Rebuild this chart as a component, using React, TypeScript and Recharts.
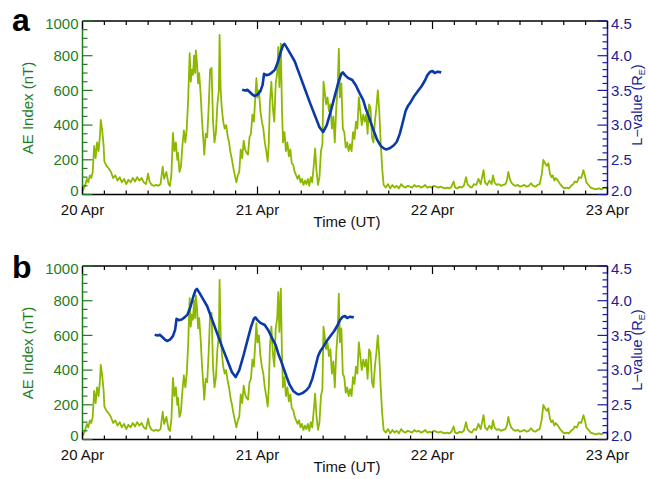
import { LineChart, Line, XAxis, YAxis } from "recharts";

// AE index, hours after 20 Apr 00 UT
const AE_HOURS = [
  0, 0.3, 0.6, 0.8, 1.0, 1.2, 1.4, 1.6, 1.8, 2.0, 2.2, 2.4, 2.5, 2.7, 2.9, 3.0, 3.3, 3.6, 3.9, 4.2,
  4.5, 4.8, 5.1, 5.4, 5.7, 6.0, 6.3, 6.6, 6.9, 7.2, 7.5, 7.8, 8.1, 8.4, 8.7, 9.0, 9.2, 9.5, 9.8, 10.1,
  10.4, 10.7, 11.0, 11.2, 11.5, 11.8, 12.0, 12.2, 12.4, 12.6, 12.8, 13.0, 13.1, 13.3, 13.5, 13.7, 13.9, 14.1, 14.3, 14.5,
  14.7, 14.85, 15.0, 15.15, 15.3, 15.45, 15.55, 15.7, 15.85, 16.0, 16.2, 16.4, 16.6, 16.7, 16.9, 17.1, 17.3, 17.5, 17.7, 17.9,
  18.1, 18.3, 18.5, 18.7, 18.8, 18.95, 19.1, 19.3, 19.5, 19.7, 19.9, 20.1, 20.3, 20.5, 20.7, 20.9, 21.1, 21.3, 21.5, 21.7,
  21.9, 22.1, 22.3, 22.5, 22.7, 22.9, 23.1, 23.3, 23.5, 23.7, 23.85, 24.0, 24.2, 24.4, 24.6, 24.8, 25.0, 25.2, 25.4, 25.55,
  25.7, 25.9, 26.1, 26.3, 26.5, 26.7, 26.85, 27.0, 27.2, 27.35, 27.5, 27.7, 27.9, 28.1, 28.3, 28.5, 28.7, 28.9, 29.1, 29.3,
  29.5, 29.7, 29.9, 30.1, 30.3, 30.5, 30.7, 30.9, 31.1, 31.3, 31.5, 31.7, 31.9, 32.1, 32.3, 32.5, 32.7, 32.9, 33.05, 33.2,
  33.4, 33.6, 33.8, 34.0, 34.2, 34.4, 34.6, 34.8, 35.0, 35.15, 35.3, 35.5, 35.7, 35.9, 36.1, 36.3, 36.5, 36.7, 36.9, 37.1,
  37.3, 37.5, 37.7, 37.9, 38.1, 38.3, 38.5, 38.7, 38.9, 39.1, 39.3, 39.5, 39.7, 39.9, 40.1, 40.3, 40.5, 40.7, 40.9, 41.1,
  41.3, 41.6, 41.9, 42.2, 42.5, 42.8, 43.1, 43.4, 43.7, 44.0, 44.3, 44.6, 44.9, 45.2, 45.5, 45.8, 46.1, 46.4, 46.7, 47.0,
  47.3, 47.6, 47.9, 48.2, 48.5, 48.8, 49.1, 49.4, 49.7, 50.0, 50.3, 50.6, 50.9, 51.1, 51.4, 51.7, 52.0, 52.3, 52.6, 52.8,
  53.1, 53.4, 53.7, 54.0, 54.3, 54.6, 55.0, 55.2, 55.5, 55.8, 56.1, 56.3, 56.5, 56.8, 57.1, 57.4, 57.7, 58.0, 58.2, 58.4,
  58.6, 58.8, 59.1, 59.4, 59.7, 60.0, 60.3, 60.6, 60.9, 61.2, 61.5, 61.8, 62.1, 62.4, 62.7, 63.0, 63.2, 63.5, 63.7, 63.9,
  64.1, 64.3, 64.5, 64.7, 64.9, 65.2, 65.5, 65.8, 66.1, 66.4, 66.7, 67.0, 67.3, 67.5, 67.8, 68.1, 68.4, 68.7, 68.9, 69.1,
  69.4, 69.7, 70.0, 70.4, 70.8, 71.2, 71.6, 72.0,
];
const AE_VALUES = [
  20, 45, 90, 70, 110, 95, 130, 280, 210, 300, 250, 340, 430, 370, 280, 190, 165, 150, 130, 95,
  110, 80, 100, 70, 90, 60, 85, 70, 95, 75, 100, 80, 95, 70, 60, 120, 75, 55, 50, 55,
  50, 60, 160, 90, 130, 60, 50, 120, 355, 250, 300, 200, 240, 130, 160, 280, 370, 300, 380, 560,
  815, 650, 720, 690, 800, 700, 830, 760, 640, 700, 580, 420, 300, 230, 350, 330, 500, 720, 730, 420,
  300, 360, 520, 600, 920, 600, 500, 420, 380, 400, 340, 300, 240, 200, 150, 110, 70, 110, 130, 260,
  210, 310, 260, 240, 230, 330, 350, 460, 420, 560, 670, 560, 600, 480, 420, 380, 300, 250, 190, 300,
  530, 650, 500, 420, 640, 700, 850, 620, 870, 500, 300, 360, 250, 300, 220, 260, 180, 170, 130, 110,
  90, 110, 70, 90, 55, 80, 60, 90, 50, 100, 70, 160, 265, 130, 55, 100, 250, 290, 650, 600,
  520, 560, 480, 520, 380, 450, 300, 500, 620, 840, 560, 640, 380, 360, 270, 300, 250, 290, 250, 360,
  320, 420, 380, 560, 480, 400, 460, 420, 460, 350, 520, 500, 330, 300, 420, 500, 600, 480, 300, 150,
  55, 40, 60, 35, 55, 40, 50, 35, 60, 45, 40, 50, 45, 40, 55, 45, 50, 40, 45, 55,
  40, 45, 40, 50, 45, 40, 45, 40, 35, 40, 35, 45, 75, 40, 35, 45, 40, 50, 100, 60,
  45, 40, 60, 55, 90, 60, 140, 70, 55, 80, 60, 110, 70, 55, 60, 50, 55, 60, 80, 130,
  90, 70, 55, 50, 55, 45, 50, 55, 45, 50, 65, 50, 45, 55, 60, 120, 200, 175, 165, 180,
  120, 100, 110, 80, 95, 80, 60, 45, 35, 40, 35, 50, 60, 75, 70, 100, 95, 140, 110, 70,
  55, 40, 35, 30, 35, 30, 40, 35,
];

// L-value of the panel a trace, hours after 20 Apr 00 UT
const L_HOURS = [
  21.9, 22.3, 22.6, 22.9, 23.3, 23.6, 24.0, 24.4, 24.7, 24.9, 25.2, 25.6, 26.0, 26.4, 26.8, 27.2, 27.5, 27.7, 28.0, 28.5,
  29.1, 29.8, 30.5, 31.2, 31.9, 32.5, 33.0, 33.5, 34.1, 34.6, 35.1, 35.5, 35.7, 36.0, 36.4, 37.0, 37.5, 38.0, 38.5, 38.9,
  39.2, 39.6, 40.0, 40.4, 40.9, 41.4, 41.7, 42.2, 42.7, 43.1, 43.5, 43.9, 44.3, 44.6, 45.0, 45.5, 46.0, 46.5, 47.0, 47.3,
  47.7, 48.0, 48.3, 48.7, 49.2,
];
const L_VALUES = [
  3.51, 3.5, 3.51, 3.48, 3.44, 3.42, 3.44, 3.49, 3.58, 3.74, 3.72, 3.73, 3.76, 3.8, 3.91, 4.06, 4.15, 4.17, 4.12, 4.03,
  3.92, 3.72, 3.52, 3.32, 3.13, 2.97, 2.9, 3.0, 3.22, 3.42, 3.62, 3.74, 3.76, 3.72, 3.68, 3.65, 3.57, 3.46, 3.36, 3.22,
  3.14, 3.02, 2.9, 2.79, 2.7, 2.66, 2.65, 2.67, 2.71, 2.76, 2.87, 3.03, 3.2, 3.27, 3.33, 3.42, 3.49, 3.56, 3.65, 3.72,
  3.77, 3.78, 3.75, 3.77, 3.76,
];
// panel b shows the same L-value trace moved 12 h earlier
const L_SHIFT_B = -12;

const DAY_LABELS = ["20 Apr", "21 Apr", "22 Apr", "23 Apr"];
const AE_TICKS = [0, 200, 400, 600, 800, 1000];
const L_TICKS = [2.0, 2.5, 3.0, 3.5, 4.0, 4.5];

const X_TICKS = Array.from({ length: 25 }, (_, i) => i * 3);
const AE_MINOR = Array.from({ length: 21 }, (_, i) => i * 50);
const L_MINOR = Array.from({ length: 26 }, (_, i) => (20 + i) / 10);

const FONT = '"Liberation Sans", Arial, Helvetica, sans-serif';
const GREEN_AXIS = "#1f7d1f";
const BLUE_AXIS = "#1c1c94";
const AE_COLOR = "#8cb800";
const L_COLOR = "#0b3aa8";

const W = 648;
const H = 245;
const TOP = 21;
const PLOT_H = 173.5;
const BOTTOM = TOP + PLOT_H;
const LEFT = 82.5;
const RIGHT_W = 40.5;
const PLOT_RIGHT = W - RIGHT_W;

const aeData = AE_HOURS.map((t, i) => ({ t, ae: AE_VALUES[i] }));

function BottomTick({ x, payload }: any) {
  const v = payload.value;
  const major = v % 24 === 0;
  return (
    <g>
      <line x1={x} x2={x} y1={BOTTOM} y2={BOTTOM - (major ? 8 : 4)} stroke="#000" strokeWidth={1.2} />
      {major && (
        <text x={x} y={BOTTOM + 20.5} textAnchor="middle" fontSize={15} fontFamily={FONT} fill="#111">
          {DAY_LABELS[v / 24]}
        </text>
      )}
    </g>
  );
}

function TopTick({ x, payload }: any) {
  const major = payload.value % 24 === 0;
  return <line x1={x} x2={x} y1={TOP} y2={TOP + (major ? 8 : 4)} stroke="#000" strokeWidth={1.2} />;
}

function LeftTick({ y, payload }: any) {
  const v = payload.value;
  const major = AE_TICKS.includes(v);
  let ly = y + 5.3;
  if (v === 0) ly -= 4;
  if (v === 1000) ly += 3;
  return (
    <g>
      <line x1={LEFT} x2={LEFT + (major ? 10 : 5)} y1={y} y2={y} stroke={GREEN_AXIS} strokeWidth={1.2} />
      {major && (
        <text x={78.5} y={ly} textAnchor="end" fontSize={15} fontFamily={FONT} fill={GREEN_AXIS}>
          {v}
        </text>
      )}
    </g>
  );
}

function RightTick({ y, payload }: any) {
  const v = payload.value;
  const major = L_TICKS.some((m) => Math.abs(m - v) < 1e-6);
  let ly = y + 5.3;
  if (Math.abs(v - 2) < 1e-6) ly -= 4;
  if (Math.abs(v - 4.5) < 1e-6) ly += 3;
  return (
    <g>
      <line x1={PLOT_RIGHT} x2={PLOT_RIGHT - (major ? 10 : 5)} y1={y} y2={y} stroke={BLUE_AXIS} strokeWidth={1.2} />
      {major && (
        <text x={611} y={ly} textAnchor="start" fontSize={15} fontFamily={FONT} fill={BLUE_AXIS}>
          {v.toFixed(1)}
        </text>
      )}
    </g>
  );
}

function Panel({ shift }: { shift: number }) {
  const lData = L_HOURS.map((t, i) => ({ t: t + shift, l: L_VALUES[i] }));
  return (
    <LineChart width={W} height={H} margin={{ top: TOP - 1, right: 0, bottom: 0, left: 0 }}>
      <XAxis
        xAxisId="top"
        orientation="top"
        type="number"
        dataKey="t"
        domain={[0, 72]}
        ticks={X_TICKS}
        interval={0}
        height={1}
        tick={<TopTick />}
        tickLine={false}
        axisLine={{ stroke: "#000", strokeWidth: 1.3 }}
        allowDataOverflow
      />
      <XAxis
        xAxisId="bottom"
        type="number"
        dataKey="t"
        domain={[0, 72]}
        ticks={X_TICKS}
        interval={0}
        height={H - BOTTOM}
        tick={<BottomTick />}
        tickLine={false}
        axisLine={{ stroke: "#000", strokeWidth: 1.3 }}
        allowDataOverflow
      />
      <YAxis
        yAxisId="ae"
        type="number"
        domain={[0, 1000]}
        ticks={AE_MINOR}
        interval={0}
        width={LEFT}
        tick={<LeftTick />}
        tickLine={false}
        axisLine={{ stroke: GREEN_AXIS, strokeWidth: 1.5 }}
        allowDataOverflow
      />
      <YAxis
        yAxisId="l"
        orientation="right"
        type="number"
        domain={[2, 4.5]}
        ticks={L_MINOR}
        interval={0}
        width={RIGHT_W}
        tick={<RightTick />}
        tickLine={false}
        axisLine={{ stroke: BLUE_AXIS, strokeWidth: 1.5 }}
        allowDataOverflow
      />
      <Line
        data={aeData}
        xAxisId="bottom"
        yAxisId="ae"
        dataKey="ae"
        type="linear"
        stroke={AE_COLOR}
        strokeWidth={1.8}
        strokeLinejoin="round"
        dot={false}
        activeDot={false}
        isAnimationActive={false}
      />
      <Line
        data={lData}
        xAxisId="bottom"
        yAxisId="l"
        dataKey="l"
        type="linear"
        stroke={L_COLOR}
        strokeWidth={2.6}
        strokeLinejoin="round"
        dot={false}
        activeDot={false}
        isAnimationActive={false}
      />
    </LineChart>
  );
}

function Titles({ off, letter, letterY }: { off: number; letter: string; letterY: number }) {
  return (
    <g fontFamily={FONT}>
      <text x={12} y={letterY} fontSize={32} fontWeight="bold" fill="#000">
        {letter}
      </text>
      <text transform={`translate(33, ${108 + off}) rotate(-90)`} textAnchor="middle" fontSize={15} fill={GREEN_AXIS}>
        AE Index (nT)
      </text>
      <text transform={`translate(642, ${105 + off}) rotate(-90)`} textAnchor="middle" fontSize={14.5} fill={BLUE_AXIS}>
        L−value (R
        <tspan fontSize={9} dy={3}>
          E
        </tspan>
        <tspan dy={-3}>)</tspan>
      </text>
      <text x={347} y={227 + off} textAnchor="middle" fontSize={15} fill="#111">
        Time (UT)
      </text>
    </g>
  );
}

export default function App() {
  return (
    <div style={{ position: "absolute", left: 0, top: 0, width: W, height: 479, background: "#fff" }}>
      <div style={{ position: "absolute", left: 0, top: 0 }}>
        <Panel shift={0} />
      </div>
      <div style={{ position: "absolute", left: 0, top: 245 }}>
        <Panel shift={L_SHIFT_B} />
      </div>
      <svg width={W} height={479} style={{ position: "absolute", left: 0, top: 0, pointerEvents: "none" }}>
        <Titles off={0} letter="a" letterY={31} />
        <Titles off={245} letter="b" letterY={278} />
      </svg>
    </div>
  );
}
